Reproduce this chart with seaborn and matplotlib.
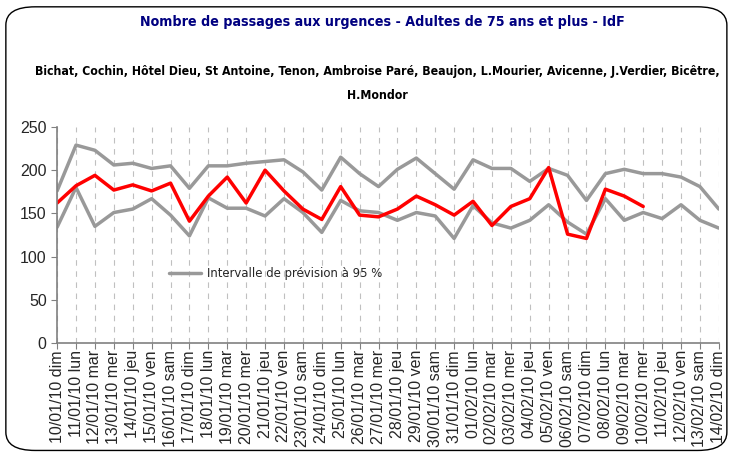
import numpy as np
import pandas as pd
import matplotlib
matplotlib.use("Agg")
import matplotlib.pyplot as plt
from matplotlib.patches import FancyBboxPatch
import seaborn as sns

# données
dates = ["10/01/10", "11/01/10", "12/01/10", "13/01/10", "14/01/10", "15/01/10",
         "16/01/10", "17/01/10", "18/01/10", "19/01/10", "20/01/10", "21/01/10",
         "22/01/10", "23/01/10", "24/01/10", "25/01/10", "26/01/10", "27/01/10",
         "28/01/10", "29/01/10", "30/01/10", "31/01/10", "01/02/10", "02/02/10",
         "03/02/10", "04/02/10", "05/02/10", "06/02/10", "07/02/10", "08/02/10",
         "09/02/10", "10/02/10", "11/02/10", "12/02/10", "13/02/10", "14/02/10"]
jours = ["dim", "lun", "mar", "mer", "jeu", "ven", "sam"] * 5 + ["dim"]

borne_sup = [176, 229, 223, 206, 208, 202, 205, 179, 205, 205, 208, 210,
             212, 198, 177, 215, 196, 181, 201, 214, 196, 178, 212, 202,
             202, 187, 202, 194, 165, 196, 201, 196, 196, 192, 181, 155]
borne_inf = [134, 180, 135, 151, 155, 167, 148, 124, 168, 156, 156, 147,
             167, 151, 128, 165, 153, 151, 142, 151, 147, 121, 159, 139,
             133, 142, 160, 140, 126, 167, 142, 151, 144, 160, 142, 133]
observe = [162, 182, 194, 177, 183, 176, 185, 141, 170, 192, 162, 200,
           176, 155, 143, 181, 148, 146, 155, 170, 160, 148, 164, 136,
           158, 167, 203, 126, 121, 178, 170, 158]

labels = [f"{d} {j}" for d, j in zip(dates, jours)]
x = np.arange(len(dates))

sns.set_style("white")
plt.rcParams['font.family'] = ['Liberation Sans', 'DejaVu Sans']
etroite = dict(family=['DejaVu Sans'], stretch='condensed')

fig = plt.figure(figsize=(7.32, 4.55), dpi=100)
ax = fig.add_axes([0.078, 0.246, 0.904, 0.475])

gris = "#999999"
sns.lineplot(x=x, y=borne_sup, ax=ax, color=gris, lw=2.5, label="Intervalle de prévision à 95 %")
sns.lineplot(x=x, y=borne_inf, ax=ax, color=gris, lw=2.5)
sns.lineplot(x=np.arange(len(observe)), y=observe, ax=ax, color="#ff0000", lw=2.5)

ax.set_xlim(0, len(dates) - 1)
ax.set_ylim(0, 250)
ax.set_yticks(range(0, 251, 50))
ax.set_xticks(x)
ax.set_xticklabels(labels, rotation=90, fontsize=11.5, family=['Liberation Sans', 'DejaVu Sans'])
for lab in ax.get_yticklabels():
    lab.set_family(['Liberation Sans', 'DejaVu Sans'])
    lab.set_fontsize(11.5)
ax.tick_params(axis='y', length=4, direction='out', left=True, color='#808080')
ax.tick_params(axis='x', length=4, direction='out', bottom=True, color='#808080', pad=1)
ax.grid(axis='x', color='#c0c0c0', linestyle=(0, (5, 5)), lw=0.8)
for s in ['top', 'right']:
    ax.spines[s].set_visible(False)
for s in ['left', 'bottom']:
    ax.spines[s].set_color('#808080')
    ax.spines[s].set_linewidth(1.2)

leg = ax.legend(loc='upper left', bbox_to_anchor=(0.152, 0.405), frameon=False,
                handlelength=2.4, handletextpad=0.45,
                prop=dict(family=['DejaVu Sans'], stretch='condensed', size=9.4))

fig.text(0.523, 0.952, "Nombre de passages aux urgences - Adultes de 75 ans et plus - IdF",
         ha='center', va='center', fontsize=10.2, weight='bold', color='#000080', **etroite)
fig.text(0.516, 0.842, "Bichat, Cochin, Hôtel Dieu, St Antoine, Tenon, Ambroise Paré, Beaujon, L.Mourier, Avicenne, J.Verdier, Bicêtre,",
         ha='center', va='center', fontsize=8.8, weight='bold', color='black', **etroite)
fig.text(0.516, 0.79, "H.Mondor", ha='center', va='center', fontsize=8.8, weight='bold', color='black', **etroite)

cadre = FancyBboxPatch((0.008, 0.01), 0.985, 0.975, boxstyle="round,pad=0,rounding_size=0.04",
                       transform=fig.transFigure, fill=False, ec='black', lw=1.0)
fig.patches.append(cadre)

fig.savefig("out.png", dpi=100)
